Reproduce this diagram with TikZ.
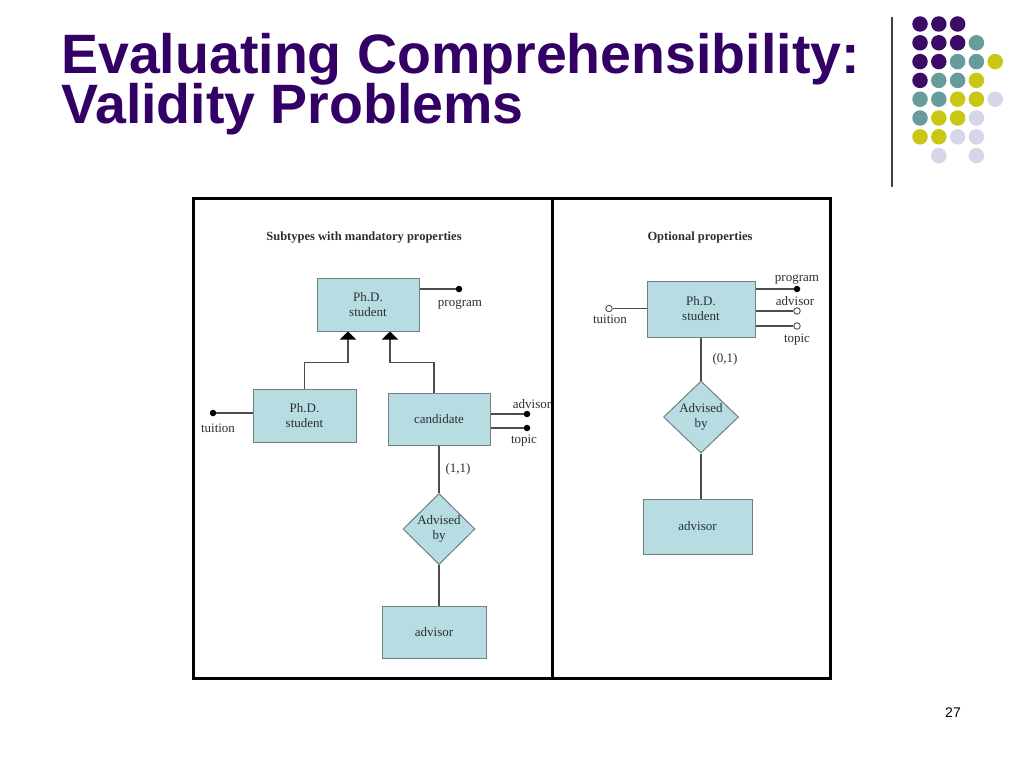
\documentclass[tikz,border=0pt]{standalone}
\usepackage{fontspec}
\setmainfont{Liberation Serif}
\newfontfamily\headfont{Liberation Sans}
\usepackage{tikz}
\usetikzlibrary{arrows.meta,shapes.geometric,positioning}

\definecolor{titlepurple}{RGB}{51,0,102}
\definecolor{dotpurple}{RGB}{58,12,104}
\definecolor{dotteal}{RGB}{104,155,155}
\definecolor{dotyellow}{RGB}{200,200,20}
\definecolor{dotlilac}{RGB}{214,214,234}
\definecolor{boxfill}{RGB}{183,221,226}
\definecolor{boxline}{RGB}{110,128,130}
\definecolor{ertext}{RGB}{40,48,52}

\begin{document}
\begin{tikzpicture}[x=1pt, y=-1pt, >={Triangle[length=8pt,width=16pt,color=black]}]
    \tikzstyle{entity} = [draw=boxline, fill=boxfill, line width=1pt, inner sep=0pt, align=center, text=ertext, font=\fontsize{13}{15}\selectfont]
    \tikzstyle{rel} = [diamond, draw=boxline, fill=boxfill, line width=1pt, inner sep=0pt, align=center, text=ertext, font=\fontsize{13}{15}\selectfont]
    \tikzstyle{mand} = [circle, fill=black, inner sep=0pt, minimum size=6.5pt]
    \tikzstyle{opt} = [circle, draw=black!70, fill=white, line width=0.9pt, inner sep=0pt, minimum size=6.5pt]
    \tikzstyle{attr} = [anchor=base, inner sep=0pt, text=ertext, font=\fontsize{13}{15}\selectfont]
    \tikzstyle{head} = [anchor=base, inner sep=0pt, text=ertext, font=\bfseries\fontsize{12.5}{15}\selectfont]
    \tikzstyle{conn} = [draw=black!70, line width=1.2pt]
    \tikzstyle{dot} = [circle, inner sep=0pt, minimum size=15.5pt]
    \useasboundingbox[fill=white] (0,0) rectangle (1024,768);
	% slide title
	\node[anchor=base west, inner sep=0pt, text=titlepurple, font=\headfont\bfseries\fontsize{55.5}{50}\selectfont] (title1) at (61,73) {Evaluating Comprehensibility:};
	\node[anchor=base west, inner sep=0pt, text=titlepurple, font=\headfont\bfseries\fontsize{55.5}{50}\selectfont] (title2) at (61,123) {Validity Problems};
	\node[font=\headfont\fontsize{14}{14}\selectfont] (pagenum) at (953,713) {27};
	% dots in the corner
	\draw[black!75, line width=1.3pt] (892,17) -- (892,187);
	\foreach \c/\r/\col in {0/0/dotpurple, 1/0/dotpurple, 2/0/dotpurple,
			0/1/dotpurple, 1/1/dotpurple, 2/1/dotpurple, 3/1/dotteal,
			0/2/dotpurple, 1/2/dotpurple, 2/2/dotteal, 3/2/dotteal, 4/2/dotyellow,
			0/3/dotpurple, 1/3/dotteal, 2/3/dotteal, 3/3/dotyellow,
			0/4/dotteal, 1/4/dotteal, 2/4/dotyellow, 3/4/dotyellow, 4/4/dotlilac,
			0/5/dotteal, 1/5/dotyellow, 2/5/dotyellow, 3/5/dotlilac,
			0/6/dotyellow, 1/6/dotyellow, 2/6/dotlilac, 3/6/dotlilac,
			1/7/dotlilac, 3/7/dotlilac}
		\node[dot, fill=\col] (d\c\r) at ({920+18.8*\c},{24+18.8*\r}) {};
	% frame
	\draw[line width=3pt] (193,198) rectangle (830,678);
	\draw[line width=3pt] (552,198) -- (552,678);
	\begin{scope}
		\node[head] (headL) at (364,240) {Subtypes with mandatory properties};
		\node[entity, minimum width=102pt, minimum height=53pt] (phd) at (368,304.5) {Ph.D.\\student};
		\node[entity, minimum width=103pt, minimum height=53pt] (sub) at (304.5,415.5) {Ph.D.\\student};
		\node[entity, minimum width=102pt, minimum height=52pt] (cand) at (439,419) {candidate};
		\node[rel, minimum width=72pt, minimum height=71pt] (advby) at (439,529) {Advised\\by};
		\node[entity, minimum width=104pt, minimum height=52pt] (adv) at (434,632) {advisor};
		\node[mand] (progdot) at (459,289) {};
		\node[mand] (tuitdot) at (213,413) {};
		\node[mand] (advdot) at (527,414) {};
		\node[mand] (topdot) at (527,428) {};
		\node[attr] (prog) at (460,306) {program};
		\node[attr] (tuit) at (218,432) {tuition};
		\node[attr] (advl) at (532,408) {advisor};
		\node[attr] (topl) at (524,443) {topic};
		\node[attr] (card) at (458,472) {(1,1)};
		\path[conn]
			(phd.east |- progdot) edge (progdot)
			(sub.west |- tuitdot) edge (tuitdot)
			(cand.east |- advdot) edge (advdot)
			(cand.east |- topdot) edge (topdot)
			(advby.north |- cand.south) edge (advby.north)
			(advby.south) edge (advby.south |- adv.north);
		\draw[conn, ->] (sub.north) -- ++(0,-26) -| ([xshift=-20pt]phd.south);
		\draw[conn, ->] ([xshift=-5pt]cand.north) -- ++(0,-30) -| ([xshift=22pt]phd.south);
	\end{scope}
	\begin{scope}
		\node[head] (headR) at (700,240) {Optional properties};
		\node[entity, minimum width=108pt, minimum height=56pt] (phdR) at (701,309) {Ph.D.\\student};
		\node[rel, minimum width=75pt, minimum height=72pt] (advbyR) at (701,417) {Advised\\by};
		\node[entity, minimum width=109pt, minimum height=55pt] (advR) at (697.5,526.5) {advisor};
		\node[mand] (progdotR) at (797,289) {};
		\node[opt] (advdotR) at (797,311) {};
		\node[opt] (topdotR) at (797,326) {};
		\node[opt] (tuitdotR) at (609,308.5) {};
		\node[attr] (progR) at (797,281) {program};
		\node[attr] (advlR) at (795,305) {advisor};
		\node[attr] (toplR) at (797,342) {topic};
		\node[attr] (tuitR) at (610,323) {tuition};
		\node[attr] (cardR) at (725,362) {(0,1)};
		\path[conn]
			(phdR.east |- progdotR) edge (progdotR)
			(phdR.east |- advdotR) edge (advdotR)
			(phdR.east |- topdotR) edge (topdotR)
			(phdR.west |- tuitdotR) edge (tuitdotR)
			(phdR.south) edge (advbyR.north)
			(advbyR.south) edge (advbyR.south |- advR.north);
	\end{scope}
\end{tikzpicture}
\end{document}
